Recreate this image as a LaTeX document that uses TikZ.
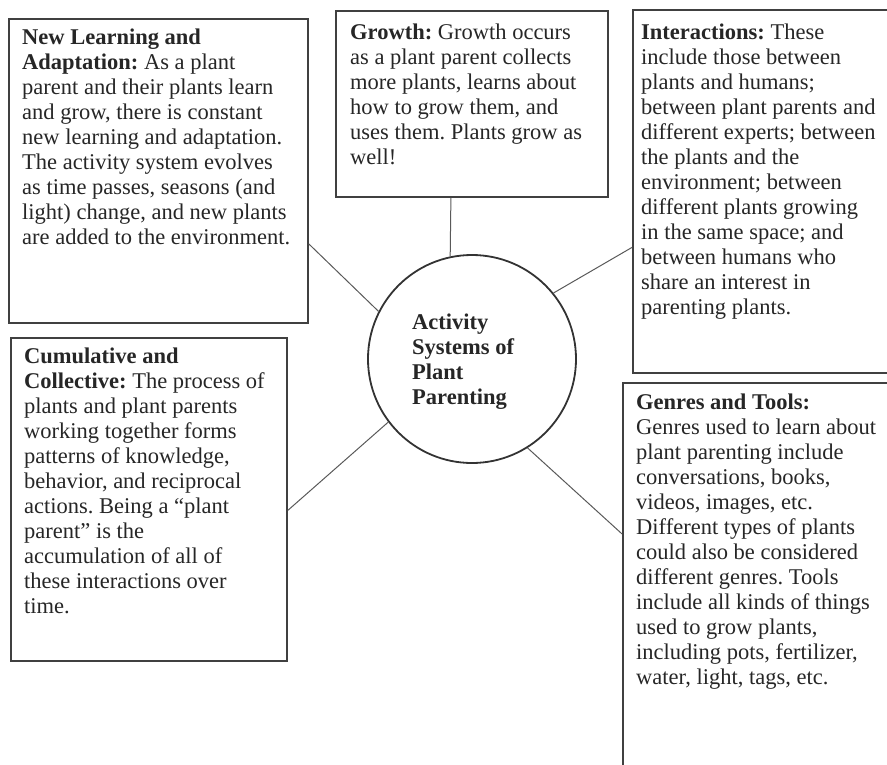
\documentclass[tikz,border=0pt]{standalone}
\usepackage{fontspec}
\setmainfont{Liberation Serif}
\usepackage{tikz}
\usetikzlibrary{shapes.geometric}
\frenchspacing
\tikzstyle{hub} =
[circle, minimum size = 208pt, inner sep = 0pt, draw=black!80, line width = 1.8pt]
\tikzstyle{topic} =
[rectangle, anchor = north west, inner sep = 0pt, draw=black!75,
line width = 1.8pt]
\tikzstyle{topictext} =
[anchor = north west, inner sep = 0pt, align = left, text = black!85,
font = \fontsize{22.5}{25}\selectfont]
\tikzstyle{hubtext} =
[topictext, font = \bfseries\fontsize{22.5}{25}\selectfont]
\tikzstyle{line} = [draw, black!65, line width = 1pt]

\begin{document}
\begin{tikzpicture}[x = 1pt, y = -1pt]
  \useasboundingbox (0,0) rectangle (887,764);
  \clip (0,0) rectangle (887,764);
  % centre
  \node [hub] (hub) at (472,359) {};
  \node [hubtext] (hubtitle) at (412,314)
   {Activity\\ Systems of\\ Plant\\ Parenting};
  %
  % boxes
  \node [topic, minimum width = 299pt, minimum height = 304pt]
   (learning) at (8,18) {};
  \node [topic, minimum width = 272pt, minimum height = 186pt]
   (growth) at (335,10) {};
  \node [topic, minimum width = 268pt, minimum height = 363pt]
   (inter) at (632,9) {};
  \node [topic, minimum width = 276pt, minimum height = 323pt]
   (cumul) at (10,337) {};
  \node [topic, minimum width = 278pt, minimum height = 418pt]
   (genres) at (622,382) {};
  %
  % box texts
  \node [topictext] (learningtext) at ([xshift=14pt,yshift=-11pt]learning.north west)
   {\textbf{New Learning and}\\
    \textbf{Adaptation:} As a plant\\
    parent and their plants learn\\
    and grow, there is constant\\
    new learning and adaptation.\\
    The activity system evolves\\
    as time passes, seasons (and\\
    light) change, and new plants\\
    are added to the environment.};
  \node [topictext] (growthtext) at ([xshift=15pt,yshift=-14pt]growth.north west)
   {\textbf{Growth:} Growth occurs\\
    as a plant parent collects\\
    more plants, learns about\\
    how to grow them, and\\
    uses them. Plants grow as\\
    well!};
  \node [topictext] (intertext) at ([xshift=9pt,yshift=-15pt]inter.north west)
   {\textbf{Interactions:} These\\
    include those between\\
    plants and humans;\\
    between plant parents and\\
    different experts; between\\
    the plants and the\\
    environment; between\\
    different plants growing\\
    in the same space; and\\
    between humans who\\
    share an interest in\\
    parenting plants.};
  \node [topictext] (cumultext) at ([xshift=14pt,yshift=-11pt]cumul.north west)
   {\textbf{Cumulative and}\\
    \textbf{Collective:} The process of\\
    plants and plant parents\\
    working together forms\\
    patterns of knowledge,\\
    behavior, and reciprocal\\
    actions. Being a ``plant\\
    parent'' is the\\
    accumulation of all of\\
    these interactions over\\
    time.};
  \node [topictext] (genrestext) at ([xshift=14pt,yshift=-12pt]genres.north west)
   {\textbf{Genres and Tools:}\\
    Genres used to learn about\\
    plant parenting include\\
    conversations, books,\\
    videos, images, etc.\\
    Different types of plants\\
    could also be considered\\
    different genres. Tools\\
    include all kinds of things\\
    used to grow plants,\\
    including pots, fertilizer,\\
    water, light, tags, etc.};
  %
  % spokes
  \path [line] ([yshift=-73pt]learning.east) -- (hub.153);
  \path [line] ([xshift=-21pt]growth.south) -- (hub.102);
  \path [line] ([yshift=-56pt]inter.west) -- (hub.39);
  \path [line] ([yshift=-11pt]cumul.east) -- (hub.217);
  \path [line] ([yshift=58pt]genres.west) -- (hub.302);
\end{tikzpicture}
\end{document}
